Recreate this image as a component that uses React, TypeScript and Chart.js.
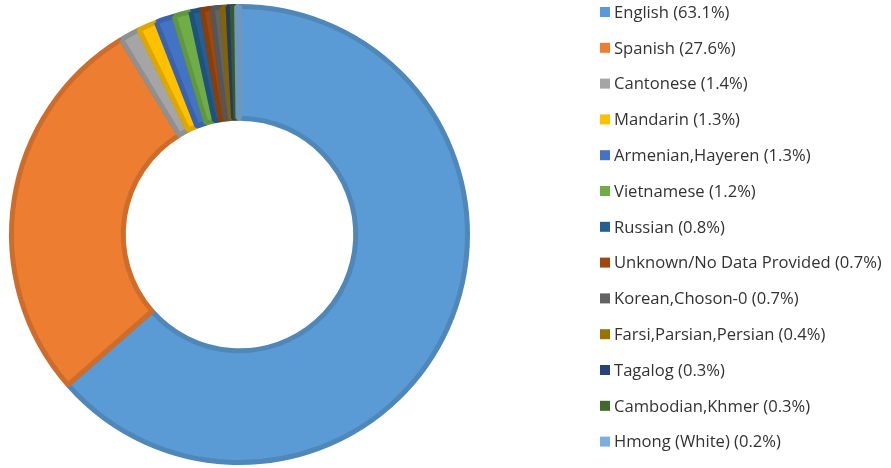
import React, { useEffect, useRef } from "react";
import { Chart, registerables } from "chart.js";

Chart.register(...registerables);

const categories = [
  "English",
  "Spanish",
  "Cantonese",
  "Mandarin",
  "Armenian,Hayeren",
  "Vietnamese",
  "Russian",
  "Unknown/No Data Provided",
  "Korean,Choson-0",
  "Farsi,Parsian,Persian",
  "Tagalog",
  "Cambodian,Khmer",
  "Hmong (White)",
];

const shares = [63.1, 27.6, 1.4, 1.3, 1.3, 1.2, 0.8, 0.7, 0.7, 0.4, 0.3, 0.3, 0.2];

const colors = [
  "#5B9BD5",
  "#ED7D31",
  "#A5A5A5",
  "#FFC000",
  "#4472C4",
  "#70AD47",
  "#255E91",
  "#9E480E",
  "#636363",
  "#997300",
  "#264478",
  "#43682B",
  "#7CAFDD",
];

function darken(hex: string, f: number): string {
  const n = parseInt(hex.slice(1), 16);
  const r = Math.round(((n >> 16) & 255) * f);
  const g = Math.round(((n >> 8) & 255) * f);
  const b = Math.round((n & 255) * f);
  return `rgb(${r},${g},${b})`;
}

const legendPlugin = {
  id: "sideLegend",
  afterDraw(chart: any) {
    const ctx = chart.ctx as CanvasRenderingContext2D;
    const labels = chart.data.labels as string[];
    const ds = chart.data.datasets[0];
    const x0 = 600;
    const y0 = 12;
    const step = 35.8;
    ctx.save();
    ctx.font = '16.6px "Open Sans", "Noto Sans", sans-serif';
    ctx.textBaseline = "middle";
    ctx.textAlign = "left";
    labels.forEach((lab, i) => {
      const y = y0 + i * step;
      ctx.fillStyle = ds.backgroundColor[i];
      ctx.fillRect(x0, y - 5, 10, 10);
      ctx.fillStyle = "#333333";
      ctx.fillText(`${lab} (${(ds.data[i] as number).toFixed(1)}%)`, x0 + 14, y + 1);
    });
    ctx.restore();
  },
};

export default function App() {
  const ref = useRef<HTMLCanvasElement>(null);
  useEffect(() => {
    document.body.style.margin = "0";
    const chart = new Chart(ref.current!, {
      type: "doughnut",
      data: {
        labels: categories,
        datasets: [
          {
            data: shares,
            backgroundColor: colors,
            borderColor: colors.map((c) => darken(c, 0.87)),
            borderWidth: 5,
          },
        ],
      },
      options: {
        animation: false,
        responsive: false,
        cutout: "51%",
        layout: { padding: { left: 9, right: 421, top: 4, bottom: 3 } },
        plugins: {
          legend: { display: false },
          tooltip: { enabled: false },
        },
      },
      plugins: [legendPlugin],
    });
    return () => chart.destroy();
  }, []);
  return <canvas ref={ref} width={891} height={468} style={{ display: "block" }} />;
}
